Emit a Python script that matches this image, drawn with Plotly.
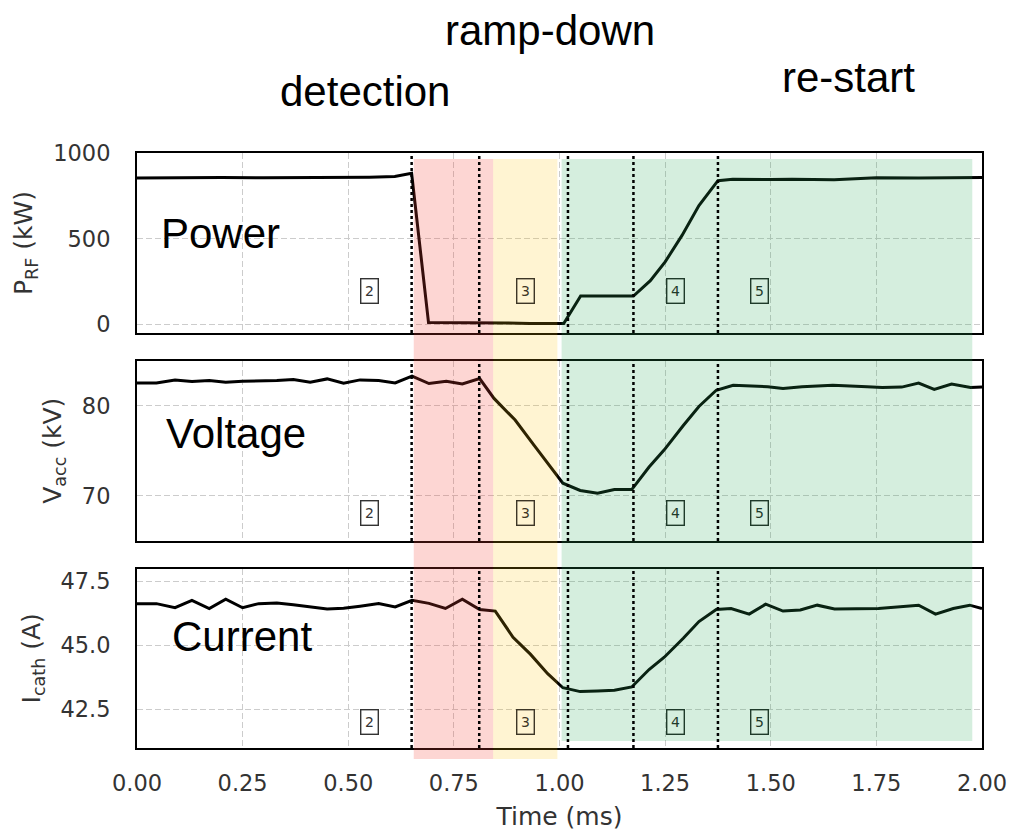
import plotly.graph_objects as go
from plotly.subplots import make_subplots

# ---------------- data ----------------
t_power = [0.0, 0.1, 0.2, 0.3, 0.4, 0.5, 0.55, 0.61, 0.65, 0.69, 0.75, 0.81, 0.87, 0.93,
           1.0, 1.01, 1.05, 1.1, 1.175, 1.215, 1.25, 1.29, 1.33, 1.375, 1.41, 1.5, 1.55,
           1.65, 1.75, 1.85, 2.0]
power = [856, 858, 858, 857, 858, 857, 860, 864, 883, 10, 10, 12, 8, 5,
         8, 5, 165, 165, 165, 255, 365, 520, 695, 840, 848, 847, 849,
         846, 857, 856, 858]

t_volt = [0.0, 0.046, 0.09, 0.13, 0.171, 0.21, 0.25, 0.29, 0.331, 0.37,
          0.41, 0.45, 0.489, 0.528, 0.572, 0.611, 0.651, 0.691, 0.732, 0.77,
          0.811, 0.845, 0.895, 0.94, 0.972, 1.008, 1.049, 1.09, 1.13, 1.171,
          1.212, 1.248, 1.293, 1.33, 1.371, 1.411, 1.493, 1.529, 1.574, 1.647,
          1.728, 1.764, 1.81, 1.85, 1.887, 1.928, 1.973, 2.0]
volt = [82.5, 82.5, 82.85, 82.67, 82.78, 82.6, 82.7, 82.7, 82.78, 82.9,
        82.6, 82.96, 82.48, 82.85, 82.78, 82.52, 83.26, 82.45, 82.7, 82.4,
        83.0, 80.8, 78.4, 75.6, 73.6, 71.4, 70.6, 70.3, 70.7, 70.7,
        73.2, 75.1, 77.8, 79.9, 81.7, 82.25, 82.1, 81.9, 82.1, 82.25,
        82.1, 82.0, 82.05, 82.5, 81.8, 82.4, 82.0, 82.05]

t_curr = [0.0, 0.046, 0.09, 0.13, 0.171, 0.21, 0.25, 0.288, 0.331, 0.37,
          0.45, 0.489, 0.528, 0.572, 0.611, 0.651, 0.691, 0.73, 0.77, 0.811,
          0.848, 0.89, 0.931, 0.972, 1.008, 1.049, 1.09, 1.13, 1.171, 1.212,
          1.248, 1.293, 1.33, 1.371, 1.406, 1.449, 1.488, 1.529, 1.57, 1.61,
          1.651, 1.755, 1.85, 1.89, 1.932, 1.971, 2.0]
curr = [46.63, 46.63, 46.47, 46.76, 46.44, 46.8, 46.47, 46.63, 46.65, 46.59,
        46.42, 46.45, 46.53, 46.63, 46.5, 46.76, 46.64, 46.44, 46.8, 46.4,
        46.34, 45.32, 44.66, 43.9, 43.35, 43.2, 43.22, 43.25, 43.38, 44.06,
        44.54, 45.28, 45.93, 46.4, 46.44, 46.22, 46.61, 46.34, 46.38, 46.57,
        46.42, 46.44, 46.57, 46.22, 46.44, 46.57, 46.44]

event_times = [0.65, 0.81, 1.02, 1.175, 1.375]
phase_names = ["detection", "ramp-down", "re-start"]
phase_spans = [(0.655, 0.843), (0.843, 0.995), (1.005, 1.977)]
step_labels = ["2", "3", "4", "5"]
step_times = [0.55, 0.92, 1.274, 1.474]
panel_names = ["Power", "Voltage", "Current"]
x_ticks = [0.0, 0.25, 0.5, 0.75, 1.0, 1.25, 1.5, 1.75, 2.0]

# ---------------- figure ----------------
W, H = 1012, 833
ML, MR, MT, MB = 137, 30, 153, 85
PH = H - MT - MB
PW = W - ML - MR

def py(px):
    return (H - MB - px) / PH

def pxx(px):
    return (px - ML) / PW

fig = make_subplots(rows=3, cols=1, shared_xaxes=True)

line_style = dict(color="black", width=3)
fig.add_trace(go.Scatter(x=t_power, y=power, mode="lines", line=line_style,
                         showlegend=False), row=1, col=1)
fig.add_trace(go.Scatter(x=t_volt, y=volt, mode="lines", line=line_style,
                         showlegend=False), row=2, col=1)
fig.add_trace(go.Scatter(x=t_curr, y=curr, mode="lines", line=line_style,
                         showlegend=False), row=3, col=1)

tick_font = dict(family="DejaVu Sans", size=22.5, color="#333333")
title_font = dict(family="DejaVu Sans", size=25, color="#333333")
axis_common = dict(showline=True, mirror=True, linecolor="black", linewidth=2,
                   showgrid=True, gridcolor="#cccccc", gridwidth=1, griddash="6px,3px",
                   zeroline=False, tickfont=tick_font, automargin=False,
                   ticks="outside", tickcolor="rgba(0,0,0,0)")

domains = [[py(333), 1.0], [py(541), py(360.5)], [0.0, py(568.5)]]
yranges = [[-51, 1002], [65, 85], [41.0, 48.0]]
ytickvals = [[0, 500, 1000], [70, 80], [42.5, 45.0, 47.5]]
yticktext = [["0", "500", "1000"], ["70", "80"], ["42.5", "45.0", "47.5"]]
ytitles = ["P<sub>RF</sub> (kW)", "V<sub>acc</sub> (kV)", "I<sub>cath</sub> (A)"]

for i in range(3):
    yname = "yaxis" if i == 0 else f"yaxis{i+1}"
    xname = "xaxis" if i == 0 else f"xaxis{i+1}"
    fig.layout[yname].update(domain=domains[i], range=yranges[i],
                             tickvals=ytickvals[i], ticktext=yticktext[i],
                             ticklen=20, title=dict(text=ytitles[i], font=title_font, standoff=13),
                             **axis_common)
    fig.layout[xname].update(range=[0, 2], tickvals=x_ticks,
                             ticktext=[f"{v:.2f}" for v in x_ticks],
                             showticklabels=(i == 2), ticklen=14, **axis_common)

fig.layout.xaxis3.title = dict(text="Time (ms)", font=title_font, standoff=12)

# shaded phases (drawn over the data, translucent)
shade_colors = ["rgba(244,67,54,0.22)", "rgba(255,193,7,0.18)", "rgba(46,170,90,0.2)"]
shade_bottoms = [py(759), py(759), py(741)]
for (x0, x1), c, yb in zip(phase_spans, shade_colors, shade_bottoms):
    fig.add_shape(type="rect", xref="x", yref="paper", x0=x0, x1=x1,
                  y0=yb, y1=py(159), fillcolor=c, line=dict(width=0), layer="above")

# dotted event lines in each panel
for r in range(3):
    yd = "y domain" if r == 0 else f"y{r+1} domain"
    for t in event_times:
        fig.add_shape(type="line", xref="x", yref=yd, x0=t, x1=t, y0=0, y1=1,
                      line=dict(color="black", width=2.5, dash="dot"), layer="above")

# step label boxes
box_y = [195, 68.05, 42.0]
box_colors = ["#333333", "#3d3626", "#1f3a2a", "#1f3a2a"]
for r in range(3):
    for lab, t, bc in zip(step_labels, step_times, box_colors):
        fig.add_annotation(x=t, y=box_y[r], xref="x" if r == 0 else f"x{r+1}",
                           yref="y" if r == 0 else f"y{r+1}", text=lab, showarrow=False,
                           font=dict(family="DejaVu Sans", size=14, color=bc),
                           bordercolor=bc, borderwidth=1.4, borderpad=3.5,
                           bgcolor="rgba(0,0,0,0)")

big_font = dict(family="Liberation Sans, Arial", size=42, color="black")
# panel names
panel_pos = [(220, 233), (236, 433.5), (241.7, 636)]
for name, (xp, ypp) in zip(panel_names, panel_pos):
    fig.add_annotation(x=pxx(xp), y=py(ypp), xref="paper", yref="paper", text=name,
                       showarrow=False, font=big_font, xanchor="center", yanchor="middle")

# phase names above the plot
phase_pos = [(365, 92), (550, 30), (848, 77)]
for name, (xp, ypp) in zip(phase_names, phase_pos):
    fig.add_annotation(x=pxx(xp), y=py(ypp), xref="paper", yref="paper", text=name,
                       showarrow=False, font=big_font, xanchor="center", yanchor="middle")

fig.update_layout(width=W, height=H, margin=dict(l=ML, r=MR, t=MT, b=MB),
                  plot_bgcolor="white", paper_bgcolor="white", showlegend=False)

fig.write_html("out.html")
